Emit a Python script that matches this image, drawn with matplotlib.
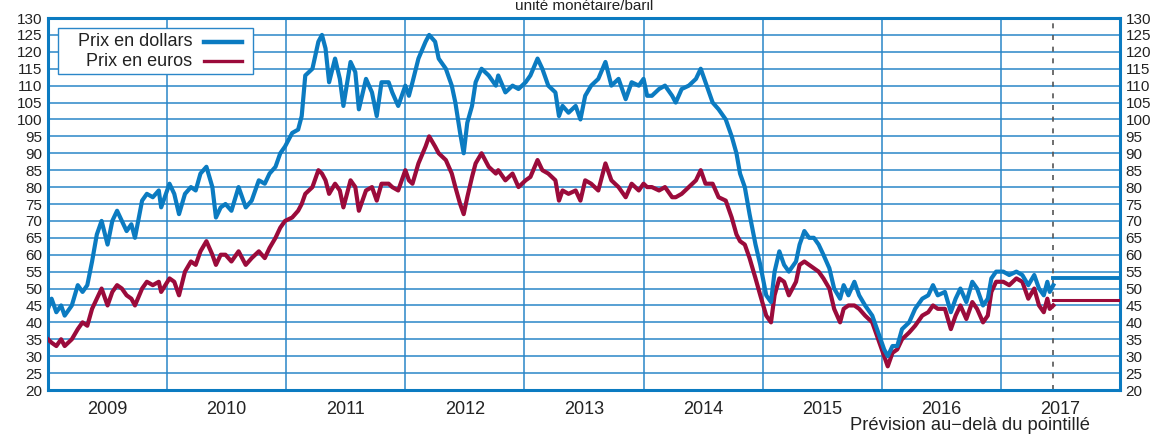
import matplotlib
matplotlib.use("Agg")
import matplotlib.pyplot as plt
from matplotlib.ticker import FixedLocator, NullFormatter, FixedFormatter
from matplotlib.lines import Line2D
from matplotlib.patches import Rectangle

plt.rcParams['font.family'] = ['Liberation Sans', 'DejaVu Sans']

# ---- data (decimal years) ----
t = [2009.00, 2009.03, 2009.07, 2009.11, 2009.14, 2009.20, 2009.25, 2009.29, 2009.33, 2009.37,
     2009.41, 2009.45, 2009.50, 2009.54, 2009.58, 2009.62, 2009.66, 2009.70, 2009.73, 2009.79,
     2009.83, 2009.88, 2009.93, 2009.95, 2010.02, 2010.06, 2010.10, 2010.15, 2010.20, 2010.24,
     2010.28, 2010.33, 2010.38, 2010.41, 2010.45, 2010.49, 2010.54, 2010.60, 2010.66, 2010.71,
     2010.77, 2010.82, 2010.86, 2010.91, 2010.95, 2010.99, 2011.05, 2011.10, 2011.13, 2011.16,
     2011.22, 2011.27, 2011.30, 2011.33, 2011.36, 2011.41, 2011.45, 2011.48, 2011.54, 2011.58,
     2011.61, 2011.67, 2011.72, 2011.76, 2011.80, 2011.86, 2011.89, 2011.94, 2012.00, 2012.03,
     2012.06, 2012.11, 2012.17, 2012.20, 2012.25, 2012.28, 2012.34, 2012.39, 2012.42, 2012.46,
     2012.49, 2012.52, 2012.56, 2012.59, 2012.64, 2012.70, 2012.76, 2012.78, 2012.84, 2012.90,
     2012.95, 2013.01, 2013.05, 2013.11, 2013.15, 2013.20, 2013.26, 2013.29, 2013.32, 2013.37,
     2013.43, 2013.47, 2013.51, 2013.56, 2013.62, 2013.68, 2013.73, 2013.79, 2013.85, 2013.90,
     2013.96, 2014.00, 2014.03, 2014.07, 2014.13, 2014.18, 2014.24, 2014.27, 2014.32, 2014.38,
     2014.44, 2014.48, 2014.52, 2014.58, 2014.63, 2014.69, 2014.74, 2014.78, 2014.81, 2014.85,
     2014.89, 2014.94, 2014.98, 2015.03, 2015.07, 2015.10, 2015.14, 2015.18, 2015.22, 2015.28,
     2015.31, 2015.35, 2015.39, 2015.43, 2015.47, 2015.51, 2015.56, 2015.60, 2015.65, 2015.68,
     2015.72, 2015.77, 2015.81, 2015.86, 2015.92, 2015.97, 2016.02, 2016.05, 2016.09, 2016.13,
     2016.17, 2016.23, 2016.28, 2016.34, 2016.39, 2016.43, 2016.47, 2016.53, 2016.58, 2016.62,
     2016.66, 2016.71, 2016.76, 2016.80, 2016.85, 2016.89, 2016.92, 2016.96, 2017.02, 2017.07,
     2017.13, 2017.18, 2017.23, 2017.28, 2017.32, 2017.36, 2017.39, 2017.41, 2017.44]

usd = [44, 47, 43, 45, 42, 45, 51, 49, 51, 58,
       66, 70, 63, 70, 73, 70, 67, 69, 65, 76,
       78, 77, 79, 74, 81, 78, 72, 78, 80, 79,
       84, 86, 80, 71, 74, 75, 73, 80, 74, 76,
       82, 81, 84, 86, 90, 92, 96, 97, 101, 113,
       115, 123, 125, 121, 111, 118, 112, 104, 117, 114,
       103, 112, 108, 101, 111, 111, 108, 104, 110, 107,
       111, 118, 123, 125, 123, 118, 115, 110, 105, 96,
       90, 99, 104, 111, 115, 113, 110, 113, 108, 110,
       109, 111, 113, 118, 115, 110, 108, 101, 104, 102,
       104, 100, 107, 110, 112, 117, 110, 112, 106, 111,
       110, 112, 107, 107, 109, 110, 107, 105, 109, 110,
       112, 115, 111, 105, 103, 100, 95, 90, 84, 80,
       72, 63, 57, 48, 46, 55, 61, 57, 55, 58,
       63, 67, 65, 65, 63, 60, 56, 50, 47, 51,
       48, 52, 48, 45, 42, 37, 32, 30, 33, 33,
       38, 40, 44, 47, 48, 51, 48, 49, 43, 47,
       50, 46, 52, 50, 45, 47, 53, 55, 55, 54,
       55, 54, 51, 54, 50, 48, 52, 49, 51]

eur = [35, 34, 33, 35, 33, 35, 38, 40, 39, 44,
       47, 50, 45, 49, 51, 50, 48, 47, 45, 50,
       52, 51, 52, 49, 53, 52, 48, 55, 58, 57,
       61, 64, 60, 57, 60, 60, 58, 61, 57, 59,
       61, 59, 62, 65, 68, 70, 71, 73, 75, 78,
       80, 85, 84, 82, 78, 81, 79, 74, 82, 80,
       73, 79, 80, 76, 81, 81, 80, 79, 85, 82,
       81, 87, 92, 95, 92, 90, 88, 84, 80, 75,
       72, 77, 83, 87, 90, 86, 84, 85, 82, 84,
       80, 82, 83, 88, 85, 84, 82, 76, 79, 78,
       79, 76, 82, 81, 79, 87, 82, 80, 77, 81,
       79, 81, 80, 80, 79, 80, 77, 77, 78, 80,
       82, 85, 81, 81, 77, 76, 71, 66, 64, 63,
       59, 53, 48, 42, 40, 48, 53, 52, 48, 52,
       57, 58, 57, 56, 55, 53, 50, 44, 40, 44,
       45, 45, 44, 42, 40, 35, 30, 27, 31, 32,
       35, 37, 39, 42, 43, 45, 44, 44, 38, 42,
       45, 41, 46, 44, 40, 42, 49, 52, 52, 51,
       53, 52, 47, 50, 45, 43, 47, 44, 45]

forecast_start = 2017.44
forecast_end = 2018.0
forecast_usd = 53.0
forecast_eur = 46.7

years = [2009, 2010, 2011, 2012, 2013, 2014, 2015, 2016, 2017]
yticks = list(range(20, 131, 5))
series_labels = ["Prix en dollars", "Prix en euros"]

BLUE = "#0b7bc1"
RED = "#9b0b3b"
GRID = "#2a86c8"
TXT = "#222222"

W, H = 1166, 434
fig = plt.figure(figsize=(W / 100, H / 100), dpi=100)
ax = fig.add_axes([48/W, 1-390/H, (1120-48)/W, (390-18)/H])

ax.set_xlim(2009, 2018)
ax.set_ylim(20, 130)

# grid
for y in yticks[1:-1]:
    ax.axhline(y, color=GRID, lw=1.1, zorder=1)
for yr in years[1:]:
    ax.axvline(yr, color=GRID, lw=1.1, zorder=1)
ax.axvline(forecast_start, color="#555555", lw=1.2, ls=(0, (3, 4)), zorder=1)

ax.plot(t, eur, color=RED, lw=3.0, zorder=3)
ax.plot(t, usd, color=BLUE, lw=3.0, zorder=4)
ax.plot([forecast_start, forecast_end], [forecast_usd, forecast_usd], color=BLUE, lw=2.8, zorder=4)
ax.plot([forecast_start, forecast_end], [forecast_eur, forecast_eur], color=RED, lw=2.2, zorder=3)

for s in ax.spines.values():
    s.set_color(BLUE)
    s.set_linewidth(2.2)

ax.yaxis.set_major_locator(FixedLocator(yticks))
ax.tick_params(axis='y', length=0, pad=4, labelsize=11, labelcolor=TXT,
               left=True, right=True, labelleft=True, labelright=True)
ax.xaxis.set_major_locator(FixedLocator(years))
ax.xaxis.set_major_formatter(NullFormatter())
ax.xaxis.set_minor_locator(FixedLocator([y + 0.5 for y in years]))
ax.xaxis.set_minor_formatter(FixedFormatter([str(y) for y in years]))
ax.tick_params(axis='x', which='both', length=0)
ax.tick_params(axis='x', which='minor', pad=8, labelsize=13, labelcolor=TXT)

# legend drawn by hand (pixel layout of the reference)
def fx(px):
    return px / W

def fy(py):
    return 1 - py / H

fig.patches.append(Rectangle((fx(58), fy(74)), fx(253) - fx(58), fy(28) - fy(74),
                             transform=fig.transFigure, facecolor="white",
                             edgecolor=GRID, lw=1.0, zorder=6))
for label, col, lw, py in [(series_labels[0], BLUE, 3.2, 42), (series_labels[1], RED, 2.4, 61)]:
    fig.text(fx(192), fy(py), label, ha="right", va="center", fontsize=13, color=TXT, zorder=7)
    fig.lines.append(Line2D([fx(204), fx(242)], [fy(py), fy(py)], transform=fig.transFigure,
                            color=col, lw=lw, zorder=7))

fig.text(584/W, 1-6/H, "unité monétaire/baril", ha="center", va="center",
         fontsize=11, color=TXT)
fig.text(1090/W, 1-426/H, "Prévision au\u2212delà du pointillé", ha="right", va="center",
         fontsize=13.2, color=TXT)

fig.savefig("out.png", dpi=100)
